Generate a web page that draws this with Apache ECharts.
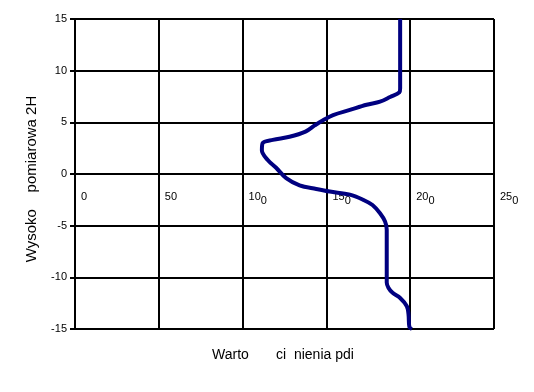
<!DOCTYPE html>
<html>
<head>
<meta charset="utf-8">
<script src="https://cdn.jsdelivr.net/npm/echarts@6/dist/echarts.min.js"></script>
<style>html,body{margin:0;padding:0;background:#fff}#c{width:534px;height:392px}</style>
</head>
<body>
<div id="c"></div>
<script>
// Heights (y) and pressure values (x), top to bottom
var heights = [15, 8.3, 7.9, 7.45, 7.0, 6.7, 6.2, 5.7, 5.2, 4.7, 4.1, 3.6, 3.3, 3.0, 2.3, 1.35, 0.6, -0.4, -1.1, -1.45, -1.7, -2.0, -2.5, -3.0, -3.8, -4.6, -5.4, -10.5, -11.0, -11.5, -12.0, -12.8, -13.6, -14.8, -15];
var values  = [194, 194, 193.5, 188, 182, 174, 164, 154, 148, 143, 137.5, 128, 118, 112, 111.5, 115, 120, 126, 134, 144, 152, 164, 172, 177.5, 182, 185, 186, 186, 187, 189.5, 194, 198, 199, 199.5, 201];
var xTitle = 'Warto       ci  nienia pdi';
var yTitle = 'Wysoko    pomiarowa 2H';

var data = values.map(function (v, i) { return [v, heights[i]]; });
var chart = echarts.init(document.getElementById('c'), null, {renderer: 'canvas'});
var font = 'Liberation Sans, Arial, Helvetica, sans-serif';
chart.setOption({
  animation: false,
  backgroundColor: '#fff',
  grid: {left: 75, right: 40, top: 19, bottom: 63},
  xAxis: {
    type: 'value', min: 0, max: 250, interval: 50,
    position: 'bottom', offset: -155,
    axisLine: {onZero: false, lineStyle: {color: '#000', width: 2}},
    axisTick: {show: false},
    splitLine: {show: true, lineStyle: {color: '#000', width: 2}},
    axisLabel: {
      align: 'left', margin: 17, padding: [0, 0, 0, 6],
      color: '#000', fontFamily: font, fontSize: 11,
      formatter: function (v) {
        var s = String(v);
        if (s.length < 3) return '{a|' + s + '}';
        return '{a|' + s.slice(0, 2) + '}{b|' + s.slice(2) + '}';
      },
      rich: {
        a: {fontFamily: font, fontSize: 11, color: '#000', verticalAlign: 'top', lineHeight: 13},
        b: {fontFamily: font, fontSize: 11, color: '#000', verticalAlign: 'bottom', lineHeight: 15}
      }
    }
  },
  yAxis: {
    type: 'value', min: -15, max: 15, interval: 5,
    axisLine: {onZero: false, lineStyle: {color: '#000', width: 2}},
    axisTick: {show: true, length: 5, lineStyle: {color: '#000', width: 2}},
    splitLine: {show: true, lineStyle: {color: '#000', width: 2}},
    axisLabel: {color: '#000', fontFamily: font, fontSize: 11, margin: 8}
  },
  graphic: [{
    type: 'text', x: 212, y: 355.5,
    style: {text: xTitle, fill: '#000', font: '14px ' + font, textAlign: 'left', textVerticalAlign: 'middle'}
  }, {
    type: 'text', x: 32, y: 179, rotation: Math.PI / 2,
    style: {text: yTitle, fill: '#000', font: '15px ' + font, textAlign: 'center', textVerticalAlign: 'middle'}
  }],
  series: [{
    type: 'line', data: data, smooth: 0.35, symbol: 'none',
    lineStyle: {color: '#000080', width: 4}, z: 3
  }]
});
</script>
</body>
</html>
